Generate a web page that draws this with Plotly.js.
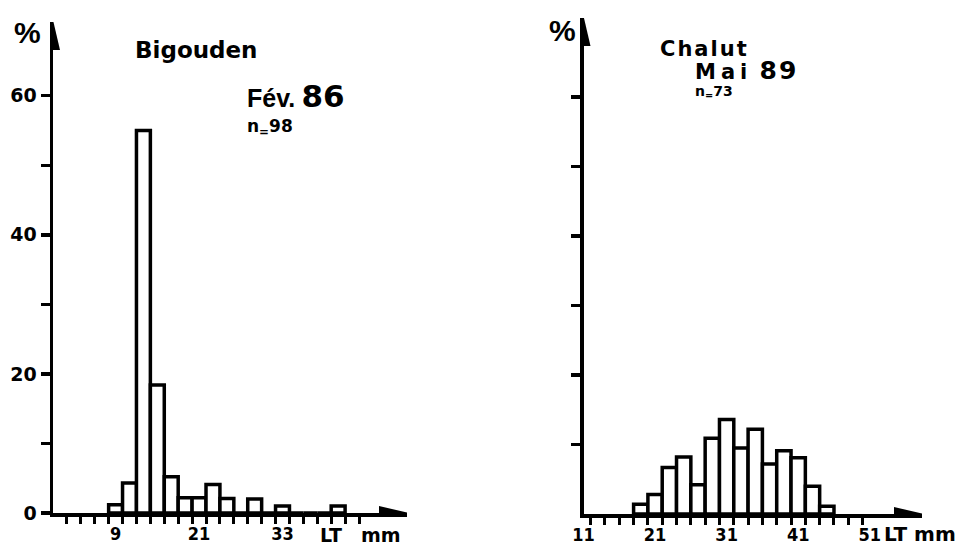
<!DOCTYPE html>
<html><head><meta charset="utf-8">
<script src="https://cdn.plot.ly/plotly-3.0.1.min.js"></script>
<style>html,body{margin:0;padding:0;background:#fff}#chart{width:962px;height:546px}</style>
</head><body><div id="chart"></div>
<script>
// ---- Data ----
// Left panel: Bigouden, Fév. 86, n=98 — length classes (mm, class centres) and %
const bigoudenLengths = [9, 11, 13, 15, 17, 19, 21, 23, 25, 27, 29, 31, 33, 35, 37, 39, 41];
const bigoudenPercent = [1.2, 4.3, 55, 18.4, 5.2, 2.2, 2.2, 4.1, 2.1, 0, 2.0, 0, 1.0, 0, 0, 0, 1.0];
// Right panel: Chalut, Mai 89, n=73
const chalutLengths = [19, 21, 23, 25, 27, 29, 31, 33, 35, 37, 39, 41, 43, 45];
const chalutPercent = [1.4, 2.8, 6.7, 8.2, 4.2, 10.9, 13.6, 9.5, 12.2, 7.2, 9.1, 8.1, 4.0, 1.1];
// Tick labels
const leftXTickLabels = ['9', '21', '33'];
const rightXTickLabels = ['11', '21', '31', '41', '51'];
const leftYTickLabels = ['0', '20', '40', '60'];
// Texts
const leftTexts = {gear: 'Bigouden', month: 'Fév.', year: '86', n: '98'};
const rightTexts = {gear: 'Chalut', month: 'Mai', year: '89', n: '73'};
const axisUnit = 'LT';
const axisUnit2 = 'mm';

// ---- Layout helpers ----
const W = 962, H = 546;
const px = v => v / W;
const py = v => 1 - v / H;
const range = (a, b, s) => { const r = []; for (let v = a; v <= b + 1e-9; v += s) r.push(v); return r; };
const b = s => '<b>' + s + '</b>';

const F_WIDE = 'DejaVu Sans, Liberation Sans, sans-serif';
const F_NARROW = 'Liberation Sans Narrow, DejaVu Sans Condensed, Liberation Sans, sans-serif';
const F_PLAIN = 'Liberation Sans, Arial, sans-serif';

const LW = 3.5;
const barStyle = {color: '#ffffff', line: {color: '#000000', width: 3.5}};

// axis extents (data units) and plot boxes (pixels)
const L = {x0: 0, x1: 50.9, y1: 70.6, left: 53, right: 407, bottom: 513, top: 22};
const R = {x0: 11, x1: 58.3, y1: 71.4, left: 583.5, right: 922, bottom: 514, top: 18};

const traces = [
  {type: 'bar', x: bigoudenLengths, y: bigoudenPercent, width: 2, marker: barStyle,
   xaxis: 'x', yaxis: 'y', hoverinfo: 'x+y', cliponaxis: false},
  {type: 'bar', x: chalutLengths, y: chalutPercent, width: 2, marker: barStyle,
   xaxis: 'x2', yaxis: 'y2', hoverinfo: 'x+y', cliponaxis: false}
];

function xAxis(P, labels, minorVals, anchor) {
  return {
    domain: [px(P.left), px(P.right)], range: [P.x0, P.x1], anchor: anchor, fixedrange: true,
    showline: true, linewidth: LW, linecolor: '#000', showgrid: false, zeroline: false,
    tickmode: 'array', tickvals: labels.map(Number), ticktext: labels.map(b), ticks: '',
    ticklabelstandoff: 2,
    tickfont: {family: F_NARROW, size: 18, color: '#000'},
    minor: {tickmode: 'array', tickvals: minorVals, ticks: 'outside', ticklen: 7,
            tickwidth: 3, tickcolor: '#000', showgrid: false}
  };
}
function yAxis(P, anchor, labels, minorVals, showLabels) {
  return {
    domain: [py(P.bottom), py(P.top)], range: [0, P.y1], anchor: anchor, fixedrange: true,
    showline: true, linewidth: LW, linecolor: '#000', showgrid: false, zeroline: false,
    tickmode: 'array', tickvals: labels.map(Number), ticktext: labels.map(b), ticks: 'outside', ticklen: 9,
    tickwidth: 3.5, tickcolor: '#000', showticklabels: showLabels,
    tickfont: {family: F_WIDE, size: 19, color: '#000'},
    minor: {tickmode: 'array', tickvals: minorVals, ticks: 'outside', ticklen: 9,
            tickwidth: 3.5, tickcolor: '#000', showgrid: false}
  };
}

// arrow heads: x in pixels around the anchor, y in data units (for the vertical one)
function arrowRight(xref, yref, P) {
  const k = (P.x1 - P.x0) / (P.right - P.left); // data units per pixel
  const tip = P.x1 + 2 * k, base = P.x1 - 28 * k;
  return {type: 'path', xref: xref, yref: yref, xsizemode: 'scaled', ysizemode: 'pixel',
          yanchor: 0,
          path: 'M' + tip + ',0 L' + base + ',7 L' + base + ',-7 Z',
          fillcolor: '#000', line: {width: 0}, layer: 'above'};
}
function arrowUp(xref, yref, P) {
  const k = P.y1 / (P.bottom - P.top);
  const tip = P.y1 + 2 * k, base = P.y1 - 28 * k;
  return {type: 'path', xref: xref, yref: yref, xsizemode: 'pixel', ysizemode: 'scaled',
          xanchor: P.x0,
          path: 'M0,' + tip + ' L-7,' + base + ' L7,' + base + ' Z',
          fillcolor: '#000', line: {width: 0}, layer: 'above'};
}

function txt(x, y, text, size, family, xanchor) {
  return {xref: 'paper', yref: 'paper', x: px(x), y: py(y), text: b(text), showarrow: false,
          xanchor: xanchor || 'left', yanchor: 'middle',
          font: {family: family, size: size, color: '#000'}};
}

const layout = {
  width: W, height: H, margin: {l: 0, r: 0, t: 0, b: 0},
  paper_bgcolor: '#fff', plot_bgcolor: 'rgba(0,0,0,0)', showlegend: false,
  bargap: 0,
  xaxis: xAxis(L, leftXTickLabels, range(2, 44, 2), 'y'),
  yaxis: yAxis(L, 'x', leftYTickLabels, [10, 30, 50], true),
  xaxis2: xAxis(R, rightXTickLabels, range(12, 50, 2), 'y2'),
  yaxis2: yAxis(R, 'x2', [], range(10, 60, 10), false),
  shapes: [
    arrowRight('x', 'y', L), arrowUp('x', 'y', L),
    arrowRight('x2', 'y2', R), arrowUp('x2', 'y2', R)
  ],
  annotations: [
    txt(27, 32, '%', 30, F_PLAIN, 'center'),
    txt(133, 50, leftTexts.gear, 23, F_WIDE),
    txt(245, 96, '<span style="font-size:25px;font-family:Liberation Sans">' + leftTexts.month +
        '</span>\u2009<span style="font-size:31px">' + leftTexts.year + '</span>', 31, F_WIDE),
    txt(245, 127, 'n<sub>=</sub>' + leftTexts.n, 17, F_WIDE),
    txt(318, 535, axisUnit + '\u2003' + axisUnit2, 19, F_WIDE),

    txt(562, 30, '%', 30, F_PLAIN, 'center'),
    txt(658, 49, '<span style="letter-spacing:2px">' + rightTexts.gear + '</span>', 21, F_WIDE),
    txt(693, 71, '<span style="letter-spacing:5px">' + rightTexts.month + '</span> <span style="font-size:25px;letter-spacing:2px">' + rightTexts.year + '</span>', 21, F_WIDE),
    txt(693, 92, 'n<sub>=</sub>' + rightTexts.n, 14, F_WIDE),
    txt(882, 534, axisUnit + ' ' + axisUnit2, 20, F_WIDE)
  ]
};

Plotly.newPlot('chart', traces, layout, {displayModeBar: false, staticPlot: true});
</script>
</body></html>
